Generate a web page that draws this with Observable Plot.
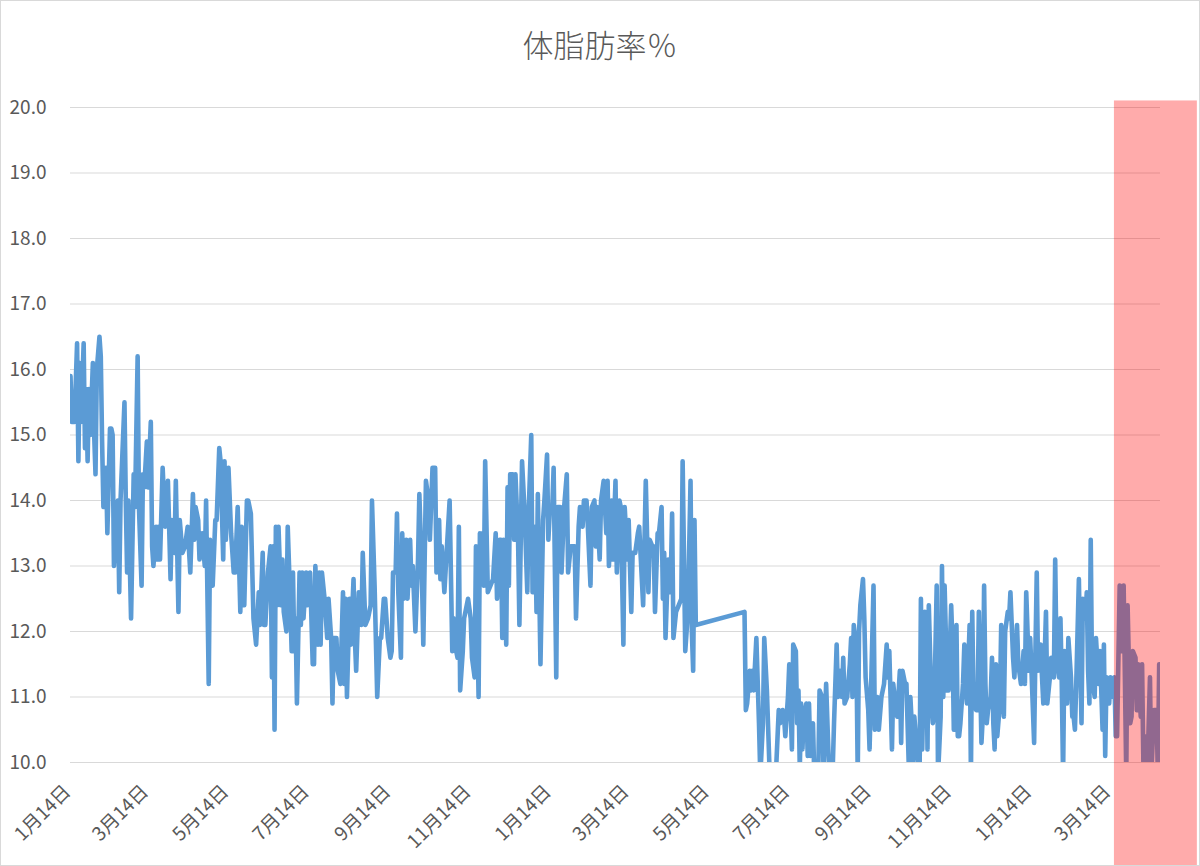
<!DOCTYPE html>
<html>
<head>
<meta charset="utf-8">
<script src="https://cdn.jsdelivr.net/npm/d3@7"></script>
<script src="https://cdn.jsdelivr.net/npm/@observablehq/plot@0.6"></script>
<style>
  html, body { margin: 0; padding: 0; background: #ffffff; }
  #chart { position: relative; width: 1200px; height: 866px; overflow: hidden; background: #fff;
           font-family: "Noto Sans CJK JP", "Noto Sans", sans-serif; }
  #title { position: absolute; left: 0; top: 22px; width: 1200px; text-align: center;
           font-size: 31px; line-height: 44px; color: #595959; font-weight: 300; }
  #plot { position: absolute; left: 0; top: 100px; }
  #border { position: absolute; left: 0; top: 0; width: 1200px; height: 866px; box-sizing: border-box;
            border: 1px solid #D9D9D9; pointer-events: none; }
</style>
</head>
<body>
<div id="chart">
  <div id="title">体脂肪率％</div>
  <div id="plot"></div>
  <div id="border"></div>
</div>
<script>
const chartTitle = "体脂肪率％";
const startDate = "2018-01-14";

// days since startDate for each measurement
const dayOffsets = [
  0,1,3,5,6,7,8,10,11,12,13,14,15,17,18,19,20,22,23,24,25,27,28,30,31,32,33,36,37,38,
  41,42,43,44,46,48,49,51,52,54,55,56,58,59,61,62,63,65,66,67,68,70,72,74,76,77,79,80,82,83,
  85,87,89,91,93,94,95,97,98,100,102,103,105,106,108,110,111,113,114,116,117,118,120,122,124,125,127,129,130,132,
  134,135,137,139,141,
  143,144,146,147,148,150,152,153,154,155,156,157,158,160,161,162,164,165,167,168,169,170,171,172,174,175,176,177,179,180,
  182,184,185,186,188,189,190,191,193,195,196,198,199,200,202,203,205,207,208,209,210,212,213,215,216,217,219,221,222,224,
  226,228,229,231,233,235,236,238,239,241,243,244,245,247,248,249,251,252,253,255,256,258,259,260,262,264,265,267,268,270,
  272,273,275,277,278,280,281,282,284,286,288,
  290,291,293,294,295,296,298,299,302,304,305,307,308,310,311,312,313,314,315,317,319,321,323,324,326,327,328,329,331,332,
  333,334,336,337,338,340,341,343,345,347,348,350,351,353,354,355,357,359,360,362,363,364,366,367,369,370,372,373,375,377,
  378,380,381,383,384,386,387,389,390,392,393,395,396,398,399,400,402,403,405,407,408,409,411,412,414,415,417,418,420,421,
  423,424,426,427,429,431,432,
  435,437,439,440,442,443,444,446,447,449,450,451,452,454,455,456,457,458,460,462,464,465,467,469,471,472,473,474,475,
  512,513,514,516,517,518,519,521,523,524,526,527,529,531,533,534,536,538,539,541,542,543,545,546,548,549,551,552,553,554,
  555,556,557,559,560,561,562,564,565,568,569,571,572,574,576,577,579,580,582,583,585,586,587,588,590,592,593,594,595,597,
  598,599,600,602,603,604,606,607,608,610,611,613,614,616,618,620,621,622,624,625,627,628,630,631,632,634,635,637,638,639,
  640,641,643,645,
  646,647,649,650,651,652,654,655,656,658,659,661,662,663,664,666,667,669,670,671,673,674,675,676,678,679,680,681,683,684,
  685,686,688,689,690,692,693,694,695,696,697,699,700,701,702,703,704,706,707,709,710,712,713,714,716,717,719,720,722,723,
  724,725,726,728,729,730,732,733,734,735,737,738,739,741,742,744,745,747,748,749,751,752,753,754,755,757,758,760,761,762,
  763,764,766,767,768,769,771,772,773,774,775,776,778,779,781,782,784,785,786,787,789,790,792,793,794,795,797,799,800,802,
  803,805,806,807,809,810,811,813,814,815,816,818,820,821,822,823,825,826,827,828
];

// body fat percentage
const bodyFat = [
  15.9,15.2,15.2,16.4,14.6,16.1,15.2,16.4,14.8,15.7,14.6,15.7,15.0,16.1,15.0,14.4,16.0,16.5,16.2,14.9,13.9,14.5,13.5,15.1,15.1,15.0,13.0,14.0,12.6,14.0,
  15.5,14.0,12.9,14.0,12.2,14.4,13.9,16.2,13.9,12.7,14.4,14.2,14.9,14.2,15.2,13.3,13.0,13.6,13.1,13.6,13.1,14.5,13.6,14.3,12.8,13.7,13.2,14.3,12.3,13.7,
  13.2,13.3,13.6,12.9,14.1,13.4,13.9,13.7,13.1,13.5,13.0,14.0,11.2,13.4,12.7,13.7,13.7,14.8,14.6,13.1,14.6,13.4,14.5,13.5,12.9,12.9,13.9,12.3,13.6,12.4,
  14.0,14.0,13.8,12.2,11.8,
  12.6,12.1,13.2,12.1,12.1,12.9,13.3,11.3,13.3,10.5,13.6,12.4,13.6,12.4,13.1,12.3,12.0,13.6,12.4,11.7,12.9,11.7,12.2,10.9,12.9,12.1,12.9,12.2,12.9,12.4,
  12.9,11.5,11.5,13.0,11.8,12.9,11.8,12.9,12.5,11.9,12.5,11.9,10.9,11.9,11.9,11.4,11.2,12.6,11.2,12.5,11.0,12.5,11.8,12.8,11.9,11.4,12.6,12.1,13.2,12.1,
  12.2,12.4,14.0,12.7,11.0,11.9,11.9,12.5,12.5,11.9,11.6,11.7,12.9,12.9,13.8,12.6,11.6,13.5,12.5,13.4,12.5,13.4,12.7,13.0,12.0,13.1,14.1,12.8,11.8,14.3,
  14.0,13.4,14.5,14.5,12.9,13.7,12.8,13.3,12.6,13.3,14.0,
  11.7,12.2,11.7,11.6,13.6,11.1,11.7,12.2,12.5,12.2,11.6,11.3,13.3,11.0,13.5,12.9,13.5,12.7,14.6,12.6,12.7,12.8,13.5,12.5,13.4,13.4,11.9,13.4,11.8,14.2,
  12.7,14.4,14.4,13.4,14.4,13.4,12.1,14.6,13.8,12.6,13.8,15.0,12.6,13.6,12.3,14.1,11.5,13.7,14.0,14.7,13.4,13.8,13.9,14.5,11.3,13.9,13.9,12.9,13.9,14.4,
  12.9,13.3,13.3,13.3,12.2,13.6,13.9,13.6,14.0,14.0,13.6,12.7,13.9,14.0,13.3,13.9,13.1,14.0,14.3,13.5,14.3,13.0,14.0,13.1,14.3,12.9,14.0,13.9,11.8,13.9,
  13.1,13.7,12.3,13.2,13.2,13.5,13.6,
  12.4,14.3,12.6,13.4,13.3,13.3,12.3,13.5,13.5,13.9,12.5,13.2,11.9,13.1,12.6,12.8,13.8,11.9,12.3,12.4,12.5,14.6,11.7,12.3,14.3,12.0,11.4,13.7,12.1,
  12.3,10.8,10.9,11.4,11.1,11.4,11.1,11.9,10.6,9.8,10.6,11.9,11.1,9.9,9.8,9.8,9.9,10.8,10.6,10.8,10.7,10.4,11.0,11.5,10.2,11.8,11.7,10.6,11.1,9.9,
  10.9,10.2,10.7,10.9,10.1,10.9,10.1,10.6,9.8,9.8,11.1,11.0,9.9,11.2,10.0,9.8,9.9,10.6,11.8,11.0,11.4,11.0,11.6,10.9,11.0,11.5,11.9,11.0,12.1,11.7,
  9.8,12.0,12.4,12.8,12.2,11.3,10.8,10.2,11.0,12.7,10.5,11.0,10.5,11.0,11.2,11.8,11.3,11.7,10.2,11.2,10.8,10.7,11.4,10.3,11.4,11.2,11.2,9.8,11.0,10.6,
  9.8,10.7,10.2,9.8,
  12.5,10.2,12.3,12.0,10.2,12.4,10.9,10.6,10.7,12.7,9.8,10.7,13.0,11.0,12.7,11.1,11.1,12.4,11.8,10.5,12.1,10.4,10.4,10.6,11.2,11.8,11.2,10.9,12.1,9.8,
  12.3,10.9,10.8,10.8,12.3,10.3,10.7,12.7,11.2,10.6,10.8,11.0,11.6,10.6,10.2,11.5,10.4,10.9,12.1,10.7,12.0,12.3,12.2,12.6,11.6,11.3,12.1,11.5,11.2,11.4,
  11.7,11.2,12.6,11.4,11.9,11.4,10.3,11.7,12.9,11.4,11.8,11.3,10.9,12.3,10.9,11.3,11.6,11.3,13.1,11.6,11.3,12.2,11.2,9.8,11.7,10.9,11.9,11.3,10.7,10.7,
  10.5,11.2,12.8,11.6,10.6,12.5,12.2,12.6,11.4,10.9,13.4,11.3,11.0,11.9,11.2,11.7,10.5,11.8,10.1,11.3,10.9,11.3,11.0,11.3,10.4,10.4,12.7,11.7,12.7,9.8,
  12.4,10.6,10.7,11.7,11.6,10.8,11.5,10.7,11.5,10.0,10.4,9.8,11.3,9.8,10.3,10.8,10.8,9.8,11.5,10.7
];

const xTickDates = ["2018-01-14","2018-03-14","2018-05-14","2018-07-14","2018-09-14","2018-11-14",
                    "2019-01-14","2019-03-14","2019-05-14","2019-07-14","2019-09-14","2019-11-14",
                    "2020-01-14","2020-03-14"];
const xTickLabels = ["1月14日","3月14日","5月14日","7月14日","9月14日","11月14日",
                     "1月14日","3月14日","5月14日","7月14日","9月14日","11月14日",
                     "1月14日","3月14日"];
const yTicks = [10,11,12,13,14,15,16,17,18,19,20];
const yDomain = [10, 20];

// highlighted (red) period
const highlightStart = "2020-03-17";
const highlightEnd = "2020-05-19";
const highlightTop = 20.1;
const highlightBottom = 8.4;

document.getElementById("title").textContent = chartTitle;

const start = new Date(startDate + "T00:00:00Z");
const data = dayOffsets.map((d, i) => ({date: d3.utcDay.offset(start, d), value: bodyFat[i]}));
const tickDates = xTickDates.map(s => new Date(s + "T00:00:00Z"));
const labelOf = new Map(tickDates.map((d, i) => [+d, xTickLabels[i]]));
const highlight = [{x1: new Date(highlightStart + "T00:00:00Z"), x2: new Date(highlightEnd + "T00:00:00Z"),
                    y1: highlightBottom, y2: highlightTop}];

const plot = Plot.plot({
  width: 1200,
  height: 766,
  marginLeft: 70,
  marginRight: 40,
  marginTop: 7,
  marginBottom: 104,
  style: {color: "#595959", fontFamily: '"Noto Sans CJK JP", sans-serif', background: "transparent", overflow: "visible"},
  x: {type: "utc", domain: d3.extent(data, d => d.date)},
  y: {domain: yDomain},
  marks: [
    Plot.gridY(yTicks, {stroke: "#D9D9D9", strokeOpacity: 1, strokeWidth: 1}),
    Plot.axisY(yTicks, {tickSize: 0, tickPadding: 24, fontSize: 19, tickFormat: d => d.toFixed(1), label: null}),
    Plot.axisX(tickDates, {tickSize: 0, tickPadding: 26, tickRotate: -45, fontSize: 19, dx: -3,
                           tickFormat: d => labelOf.get(+d), label: null}),
    Plot.line(data, {x: "date", y: "value", stroke: "#5B9BD5", strokeWidth: 4.6,
                     strokeLinejoin: "round", strokeLinecap: "round", clip: true}),
    Plot.rect(highlight, {x1: "x1", x2: "x2", y1: "y1", y2: "y2", fill: "#FF0000", fillOpacity: 0.33})
  ]
});
document.getElementById("plot").appendChild(plot);
</script>
</body>
</html>
